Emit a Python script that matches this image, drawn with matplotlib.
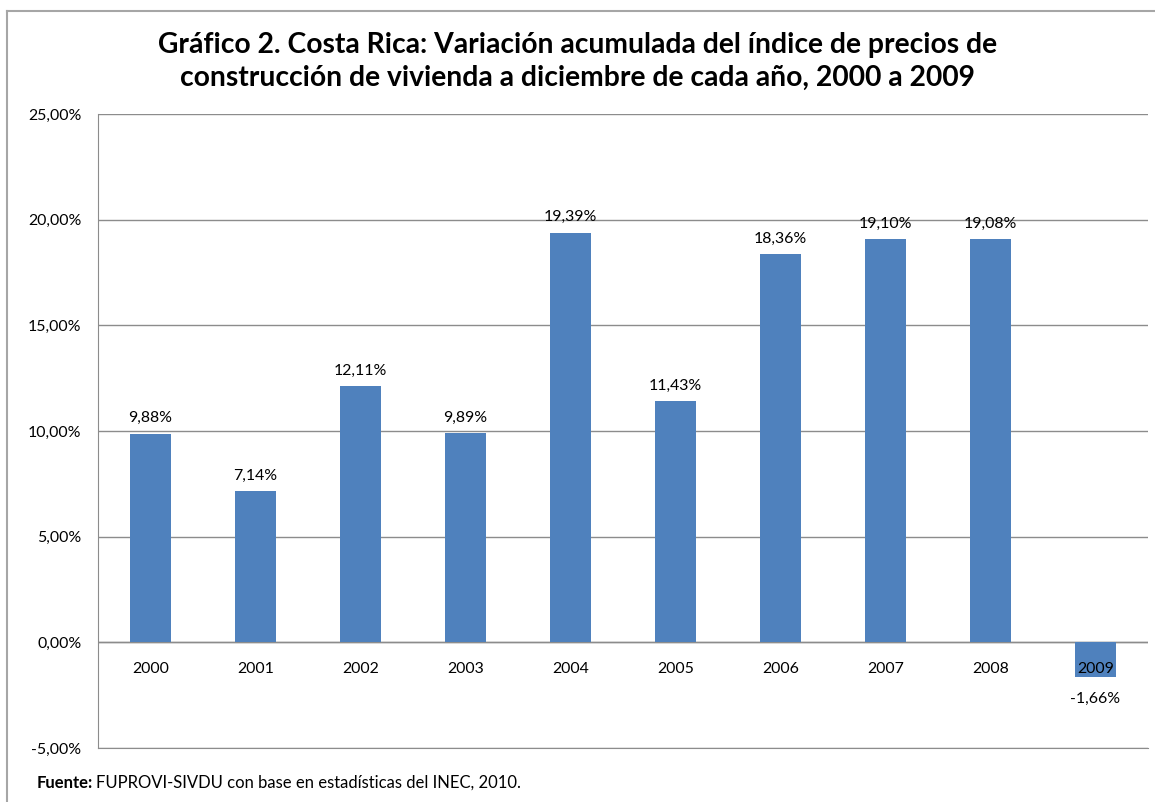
import matplotlib
matplotlib.use('Agg')
from matplotlib import pyplot as plt
from matplotlib.lines import Line2D

# data
years = ['2000', '2001', '2002', '2003', '2004', '2005', '2006', '2007', '2008', '2009']
variation = [9.88, 7.14, 12.11, 9.89, 19.39, 11.43, 18.36, 19.10, 19.08, -1.66]
yticks = [-5, 0, 5, 10, 15, 20, 25]

plt.rcParams['font.family'] = ['Lato', 'DejaVu Sans']
barColor = '#4F81BD'
gridColor = '#8C8C8C'
lblSize = 11.4

fig = plt.figure(figsize=(11.55, 8.02), dpi=100)
ax = fig.add_axes([98 / 1155, 54 / 802, 1050 / 1155, 634 / 802])

x = range(len(years))
ax.bar(x, variation, width=0.39, color=barColor, zorder=2)

ax.set_xlim(-0.5, len(years) - 0.5)
ax.set_ylim(-5, 25)
ax.set_yticks(yticks)
ax.set_yticklabels([f'{v:.2f}%'.replace('.', ',') for v in yticks], fontsize=lblSize)
ax.tick_params(axis='y', length=0, pad=12)
ax.set_xticks([])
ax.grid(axis='y', color=gridColor, linewidth=1.0, zorder=1)
for s in ['top', 'right']:
    ax.spines[s].set_visible(False)
for s in ['left', 'bottom']:
    ax.spines[s].set_color(gridColor)
ax.axhline(0, color=gridColor, linewidth=1.0, zorder=1)

# category labels just under the zero line
for i, yr in enumerate(years):
    ax.annotate(yr, (i, 0), xytext=(0, -19), textcoords='offset points',
                ha='center', va='center', fontsize=lblSize, zorder=4)

# value labels
for i, v in enumerate(variation):
    lbl = f'{v:.2f}%'.replace('.', ',')
    if v >= 0:
        ax.annotate(lbl, (i, v), xytext=(0, 11), textcoords='offset points',
                    ha='center', va='center', fontsize=lblSize)
    else:
        ax.annotate(lbl, (i, 0), xytext=(0, -41), textcoords='offset points',
                    ha='center', va='center', fontsize=lblSize)

fig.text(0.5, 1 - 45 / 802, 'Gráfico 2. Costa Rica: Variación acumulada del índice de precios de',
         ha='center', va='center', fontsize=20.3, fontweight='bold')
fig.text(0.5, 1 - 78 / 802, 'construcción de vivienda a diciembre de cada año, 2000 a 2009',
         ha='center', va='center', fontsize=20.3, fontweight='bold')

# footer: bold lead-in then regular text
t1 = fig.text(37 / 1155, 1 - 783 / 802, 'Fuente:', ha='left', va='center', fontsize=12, fontweight='bold')
fig.canvas.draw()
bb = t1.get_window_extent(fig.canvas.get_renderer())
fig.text(bb.x1 / 1155 + 3 / 1155, 1 - 783 / 802, 'FUPROVI-SIVDU con base en estadísticas del INEC, 2010.',
         ha='left', va='center', fontsize=12)

# outer chart border (cropped at right and bottom)
fig.add_artist(Line2D([7 / 1155, 1], [1 - 11 / 802, 1 - 11 / 802], color='#A6A6A6', linewidth=1.5))
fig.add_artist(Line2D([7 / 1155, 7 / 1155], [0, 1 - 11 / 802], color='#A6A6A6', linewidth=1.5))

plt.savefig('out.png', dpi=100)
